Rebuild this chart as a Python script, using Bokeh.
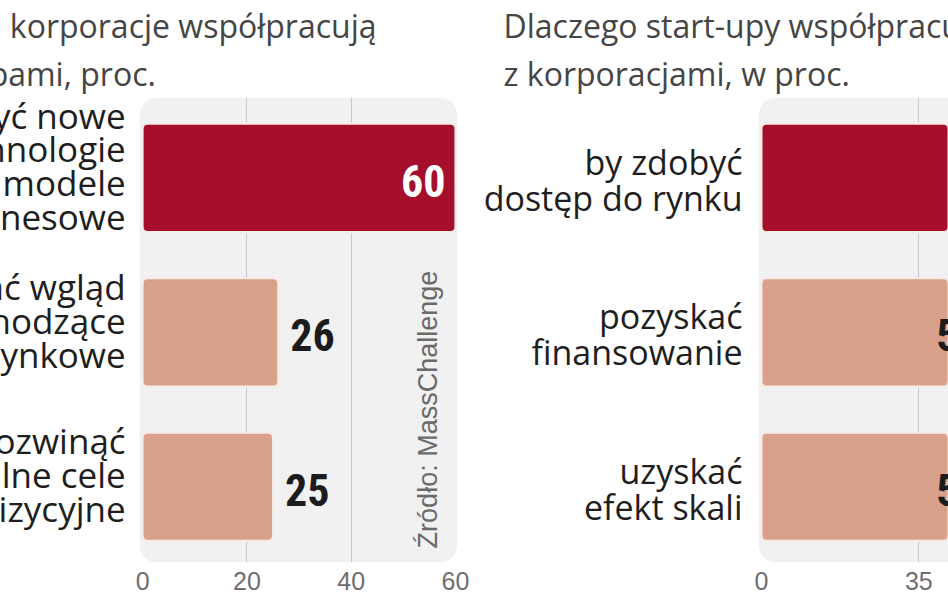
from math import pi
from bokeh.plotting import figure
from bokeh.layouts import row
from bokeh.models import Range1d, FixedTicker, Label, ColumnDataSource, Title
from bokeh.core.properties import value
from bokeh.embed import file_html
from bokeh.resources import INLINE

# ---------------- data ----------------
left_title = ["Dlaczego korporacje współpracują", "ze start-upami, proc."]
left_categories = [
    "by zdobyć nowe\ntechnologie\ni modele\nbiznesowe",
    "uzyskać wgląd\nw nadchodzące\ntrendy rynkowe",
    "rozwinąć\npotencjalne cele\nakwizycyjne",
]
left_values = [60, 26, 25]
left_ticks = [0, 20, 40, 60]
left_grid = [20, 40]

right_title = ["Dlaczego start-upy współpracują", "z korporacjami, w proc."]
right_categories = [
    "by zdobyć\ndostęp do rynku",
    "pozyskać\nfinansowanie",
    "uzyskać\nefekt skali",
]
right_values = [68, 51, 51]
right_ticks = [0, 35, 70]
right_grid = [35, 70]

source_text = "Źródło: MassChallenge"

RED = "#a50f2b"
PINK = "#d9a18b"
BG = "#f1f1f1"
H = 593
TOP = 97
BOTTOM = 31


def title_style(t, standoff, offset):
    t.align = "left"
    t.offset = offset
    t.standoff = standoff
    t.text_font = "Open Sans"
    t.text_font_size = "32px"
    t.text_font_style = "normal"
    t.text_color = "#454545"
    return t


def panel(width, xr, mb_left, mb_right, cats, vals, ticks, grid, title_lines,
          title_x, label_offset, label_size, label_lh, label_dy, bg_right):
    ys = list(range(len(cats)))
    p = figure(width=width, height=H, output_backend="svg", toolbar_location=None,
               x_range=Range1d(*xr), y_range=Range1d(2.49, -0.52),
               y_axis_location=None, min_border_left=mb_left, min_border_right=mb_right,
               min_border_top=TOP, min_border_bottom=BOTTOM, title=title_lines[0])
    p.outline_line_color = None
    p.background_fill_color = "white"
    p.border_fill_color = "white"
    p.ygrid.visible = False
    p.xgrid.ticker = FixedTicker(ticks=grid)
    p.xgrid.grid_line_color = "#c9c9c9"
    p.xgrid.grid_line_width = 1

    # two-line heading: first line is the plot title, second line sits below it
    title_style(p.title, 0, title_x[0])
    p.add_layout(title_style(Title(text=title_lines[1]), 6, title_x[1]), "above")

    # rounded light panel behind the bars
    p.quad(left=xr[0], right=bg_right, top=p.y_range.end, bottom=p.y_range.start,
           fill_color=BG, line_color=None, border_radius=18, level="image")

    colors = [RED if i == 0 else PINK for i in ys]
    p.hbar(y=ys, left=0, right=vals, height=0.7, fill_color=colors,
           line_color="#f6ebe5", line_width=2, border_radius=5)

    thr = 0.6 * max(ticks)
    src = ColumnDataSource(dict(
        x=vals, y=ys, t=[str(v) for v in vals],
        align=["right" if v >= thr else "left" for v in vals],
        off=[-10 if v >= thr else 12 for v in vals],
        col=["white" if (v >= thr and c == RED) else "#1c1c1c" for v, c in zip(vals, colors)],
    ))
    p.text(x="x", y="y", text="t", source=src, text_align="align", x_offset="off",
           text_color="col", text_baseline="middle", y_offset=3,
           text_font=value("'Roboto Condensed', Roboto"), text_font_style="bold",
           text_font_size="44px")

    # category labels
    p.text(x=[0] * len(ys), y=ys, text=cats, x_offset=label_offset, y_offset=label_dy,
           text_align="right", text_baseline="middle", text_font=value("Open Sans"),
           text_font_size=label_size, text_color="#1e1e1e", text_line_height=label_lh,
           level="overlay")

    # x axis
    ax = p.xaxis[0]
    ax.ticker = FixedTicker(ticks=ticks)
    ax.axis_line_color = None
    ax.major_tick_line_color = None
    ax.minor_tick_line_color = None
    ax.major_label_standoff = 3
    ax.major_label_text_font = "Liberation Sans"
    ax.major_label_text_font_size = "25px"
    ax.major_label_text_color = "#6e6e6e"
    return p


left = panel(474, (-0.6, 60.4), 139, 17, left_categories, left_values, left_ticks,
             left_grid, left_title, (-272, -291), -17, "35px", 0.72, -12, 60.4)
left.add_layout(Label(x=54.7, y=1.5, text=source_text, angle=pi / 2, text_align="center",
                      text_baseline="middle", text_font="Liberation Sans",
                      text_font_size="27px", text_color="#6a6a6a"))

right = panel(474, (-0.67, 41.6), 284, 0, right_categories, right_values, right_ticks,
              right_grid, right_title, (-255, -255), -19, "34px", 0.78, 2, 60)

layout = row(left, right, spacing=0)
open("out.html", "w").write(file_html(layout, INLINE))
